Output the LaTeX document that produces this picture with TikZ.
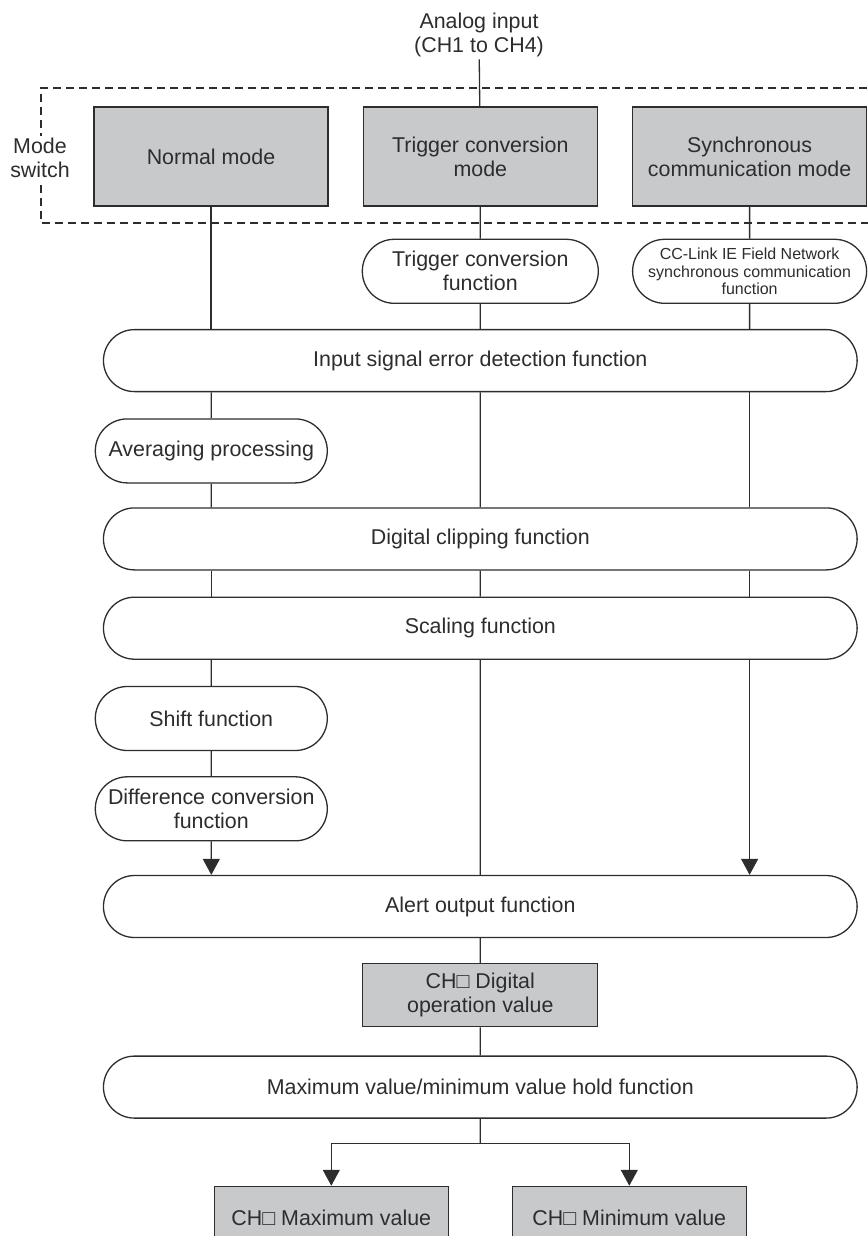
\documentclass[tikz,border=0pt]{standalone}
\usepackage{fontspec}
\setmainfont{Liberation Sans}
\usepackage{xcolor}
\usepackage{tikz}
\usetikzlibrary{arrows.meta, positioning, shapes.misc}

\definecolor{modegray}{RGB}{200,201,203}
\definecolor{inkgray}{RGB}{45,45,45}

\begin{document}
\begin{tikzpicture}[
    x=1pt, y=1pt,
    every node/.style={text=inkgray},
    modebox/.style={rectangle, draw=inkgray, fill=modegray, line width=0.65pt, minimum width=117pt, minimum height=49.5pt, align=center, font=\fontsize{10.7}{12}\selectfont},
    valbox/.style={rectangle, draw=inkgray, fill=modegray, line width=0.65pt, minimum width=117.5pt, minimum height=31.5pt, align=center, font=\fontsize{10.7}{12}\selectfont},
    funcpill/.style={rounded rectangle, draw=inkgray, fill=white, line width=0.65pt, minimum width=118pt, minimum height=32pt, inner sep=1pt, align=center, font=\fontsize{10.7}{12}\selectfont},
    widepill/.style={rounded rectangle, draw=inkgray, fill=white, line width=0.65pt, minimum width=383.5pt, minimum height=31pt, align=center, font=\fontsize{10.7}{12}\selectfont},
    plain/.style={align=center, inner sep=1pt, font=\fontsize{10.7}{12}\selectfont},
    line/.style={draw=inkgray, line width=0.65pt},
    arrow/.style={line, -{Triangle[length=8pt, width=8.5pt]}},
    modeframe/.style={draw=inkgray, line width=0.65pt, dash pattern=on 4pt off 2.5pt}
]
    \useasboundingbox (0,0) rectangle (433.5,-618);

    % mode switch frame, open to the right
    \draw[modeframe] (440,-44) -| (20.5,-111.5) -- (440,-111.5);

    \node[modebox] (normal) at (105.5,-78.25) {Normal mode};
    \node[modebox, right=17pt of normal] (trig) {Trigger conversion\\mode};
    \node[modebox, right=17pt of trig] (sync) {Synchronous\\communication mode};
    \node[plain] (analog) at (239.5,-17.5) {Analog input\\(CH1 to CH4)};
    \node[plain, fill=white] (modesw) at (20,-79) {Mode\\switch};

    \node[funcpill, minimum width=120pt, below=16pt of trig] (trigfn) {Trigger conversion\\function};
    \node[funcpill, minimum width=119pt, font=\fontsize{8}{8.6}\selectfont, below=16pt of sync] (syncfn) {CC-Link IE Field Network\\synchronous communication\\function};

    \node[widepill, below=12.5pt of trigfn] (errdet) {Input signal error detection function};
    \node[funcpill, below=13pt of errdet, xshift=-134.5pt] (avg) {Averaging processing};
    \node[widepill, below=57.5pt of errdet] (clip) {Digital clipping function};
    \node[widepill, below=13pt of clip] (scal) {Scaling function};
    \node[funcpill, below=13pt of scal, xshift=-134.5pt] (shift) {Shift function};
    \node[funcpill, below=12.5pt of shift] (diff) {Difference conversion\\function};
    \node[widepill, below=107.5pt of scal] (alert) {Alert output function};

    \node[valbox, below=12.5pt of alert] (digval) {CH\symbol{"25A1} Digital\\operation value};
    \node[widepill, below=14pt of digval] (hold) {Maximum value/minimum value hold function};
    \node[modebox, minimum height=31.5pt, below=33.5pt of hold, xshift=-74.5pt] (maxv) {CH\symbol{"25A1} Maximum value};
    \node[modebox, minimum height=31.5pt, below=33.5pt of hold, xshift=74.5pt] (minv) {CH\symbol{"25A1} Minimum value};
    \coordinate[below=12.5pt of hold] (split);

    % Connections
    \draw[line] (analog) -- (trig);
    \draw[line] (normal) -- (normal |- errdet.north);
    \draw[line] (trig) -- (trigfn);
    \draw[line] (trigfn) -- (errdet);
    \draw[line] (sync) -- (syncfn);
    \draw[line] (syncfn) -- (syncfn |- errdet.north);

    \draw[line] (avg |- errdet.south) -- (avg);
    \draw[line] (avg) -- (avg |- clip.north);
    \draw[line] (errdet) -- (clip);
    \draw[line] (syncfn |- errdet.south) -- (syncfn |- clip.north);

    \draw[line] (avg |- clip.south) -- (avg |- scal.north);
    \draw[line] (clip) -- (scal);
    \draw[line] (syncfn |- clip.south) -- (syncfn |- scal.north);

    \draw[line] (shift |- scal.south) -- (shift);
    \draw[line] (shift) -- (diff);
    \draw[arrow] (diff) -- (diff |- alert.north);
    \draw[line] (scal) -- (alert);
    \draw[arrow] (syncfn |- scal.south) -- (syncfn |- alert.north);

    \draw[line] (alert) -- (digval);
    \draw[line] (digval) -- (hold);
    \draw[line] (hold) -- (split);
    \draw[arrow] (split) -| (maxv);
    \draw[arrow] (split) -| (minv);
\end{tikzpicture}
\end{document}
